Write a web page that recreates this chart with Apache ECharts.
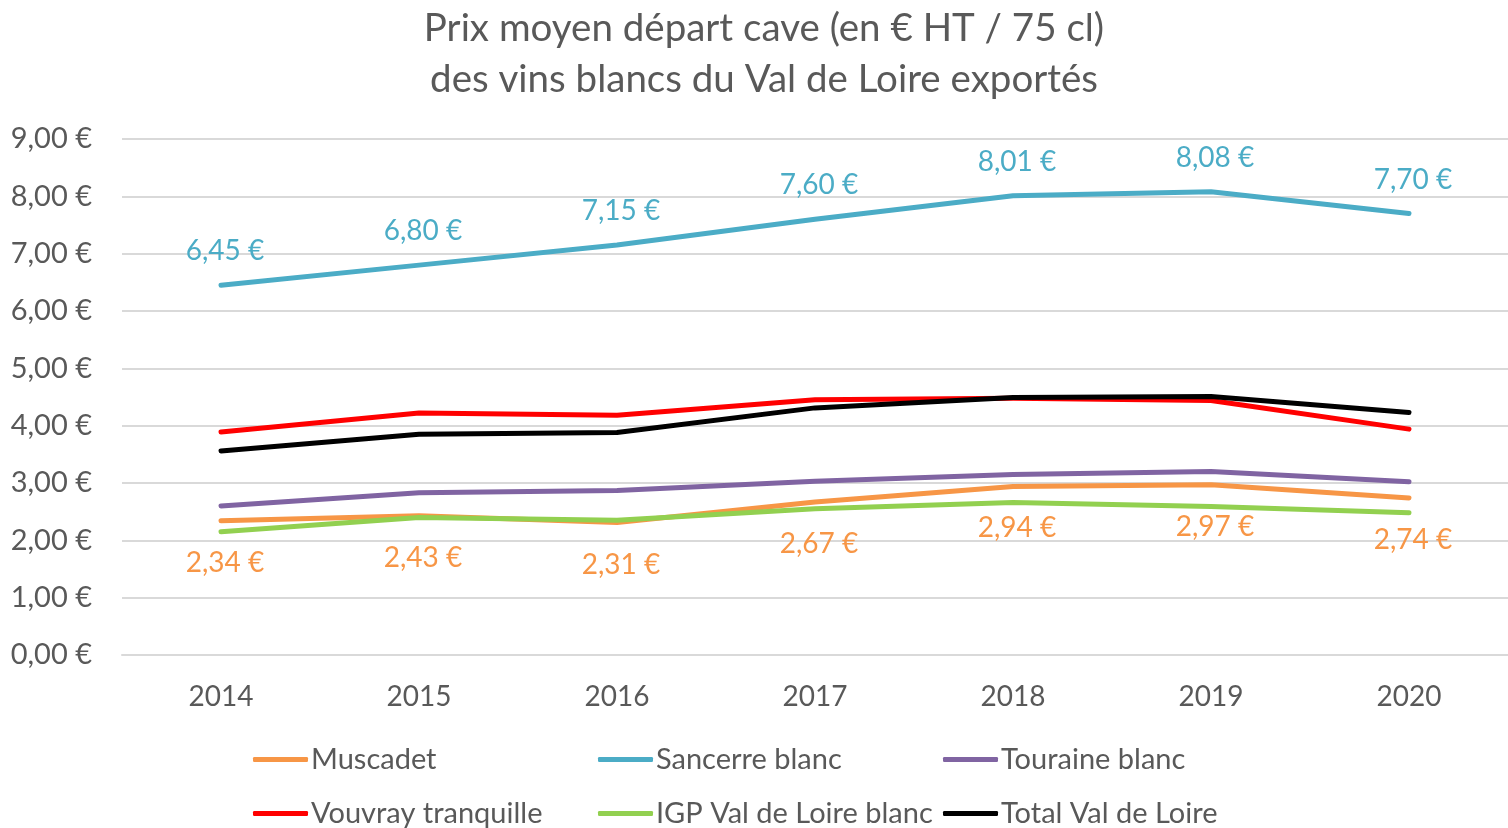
<!DOCTYPE html>
<html>
<head>
<meta charset="utf-8">
<script src="https://cdn.jsdelivr.net/npm/echarts@6/dist/echarts.min.js"></script>
<style>html,body{margin:0;padding:0;background:#fff}#c{width:1508px;height:828px}</style>
</head>
<body>
<div id="c"></div>
<script>
const years = ['2014','2015','2016','2017','2018','2019','2020'];
const muscadet = [2.34, 2.43, 2.31, 2.67, 2.94, 2.97, 2.74];
const sancerre = [6.45, 6.80, 7.15, 7.60, 8.01, 8.08, 7.70];
const touraine = [2.60, 2.83, 2.87, 3.03, 3.15, 3.20, 3.02];
const vouvray = [3.89, 4.22, 4.18, 4.45, 4.48, 4.44, 3.94];
const igp = [2.15, 2.40, 2.35, 2.55, 2.66, 2.59, 2.48];
const total = [3.56, 3.85, 3.88, 4.31, 4.49, 4.51, 4.23];
const yTicks = [0,1,2,3,4,5,6,7,8,9];

const FONT = 'Lato';
const GREY = '#595959';
const fmt = v => v.toFixed(2).replace('.', ',') + ' €';

function line(name, data, color, label) {
  const s = {
    name, type: 'line', data,
    symbol: 'circle', symbolSize: 0.01, showSymbol: true,
    smooth: false,
    lineStyle: { color, width: 5, cap: 'round', join: 'round' },
    itemStyle: { color },
    emphasis: { disabled: true },
    z: 2
  };
  if (label) {
    s.label = {
      show: true, position: label.position, distance: label.distance,
      offset: [4, 0],
      color, fontFamily: FONT, fontSize: 28,
      formatter: p => fmt(p.value)
    };
  }
  return s;
}

function leg(name, left, top) {
  return {
    data: [name], left, top, orient: 'horizontal', padding: 0,
    icon: 'roundRect', itemWidth: 55, itemHeight: 5, itemGap: 0,
    textStyle: { color: GREY, fontFamily: FONT, fontSize: 29, padding: [0,0,0,-2] },
    selectedMode: false
  };
}

const chart = echarts.init(document.getElementById('c'), null, { renderer: 'canvas' });
chart.setOption({
  animation: false,
  backgroundColor: '#fff',
  title: {
    text: 'Prix moyen départ cave (en € HT / 75 cl)\ndes vins blancs du Val de Loire exportés',
    left: 764, textAlign: 'center', top: 3, padding: 0,
    textStyle: { color: GREY, fontFamily: FONT, fontSize: 38.5, fontWeight: 'normal', lineHeight: 51 }
  },
  grid: { left: 122, top: 139, width: 1392, height: 516, containLabel: false },
  legend: [
    leg('Muscadet', 253, 745),
    leg('Sancerre blanc', 598, 745),
    leg('Touraine blanc', 943, 745),
    leg('Vouvray tranquille', 253, 799),
    leg('IGP Val de Loire blanc', 598, 799),
    leg('Total Val de Loire', 943, 799)
  ],
  xAxis: {
    type: 'category', data: years, boundaryGap: true,
    axisLine: { show: true, lineStyle: { color: '#d9d9d9', width: 2 } },
    axisTick: { show: false },
    axisLabel: { color: GREY, fontFamily: FONT, fontSize: 28, margin: 28 }
  },
  yAxis: {
    type: 'value', min: 0, max: 9, interval: 1,
    axisLine: { show: false }, axisTick: { show: false },
    splitLine: { lineStyle: { color: '#d9d9d9', width: 2 } },
    axisLabel: { color: GREY, fontFamily: FONT, fontSize: 29, margin: 30,
      formatter: v => yTicks.includes(v) ? fmt(v) : '' }
  },
  series: [
    line('Muscadet', muscadet, '#F79646', { position: 'bottom', distance: 28 }),
    line('Sancerre blanc', sancerre, '#4BACC6', { position: 'top', distance: 20 }),
    line('Touraine blanc', touraine, '#8064A2'),
    line('Vouvray tranquille', vouvray, '#FF0000'),
    line('IGP Val de Loire blanc', igp, '#92D050'),
    line('Total Val de Loire', total, '#000000')
  ]
});
</script>
</body>
</html>
